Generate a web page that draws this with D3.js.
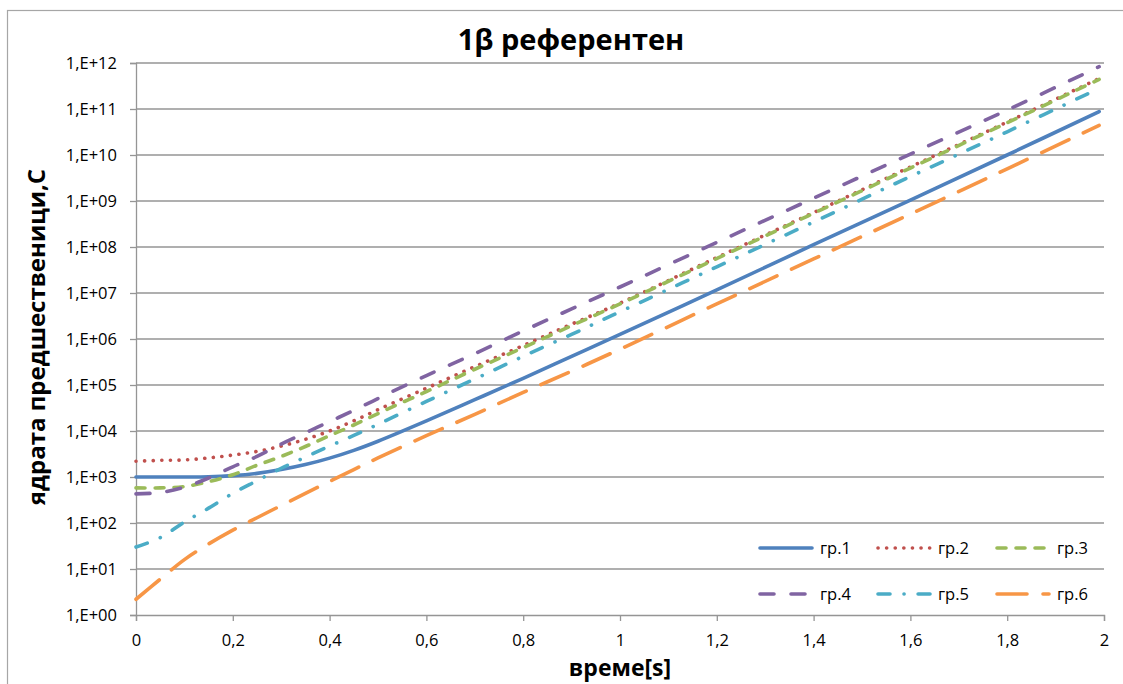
<!DOCTYPE html>
<html>
<head>
<meta charset="utf-8">
<script src="https://cdn.jsdelivr.net/npm/d3@7"></script>
<style>
  body { margin: 0; background: #fff; }
  text { font-family: "Open Sans", "Noto Sans", sans-serif; fill: #000; }
</style>
</head>
<body>
<div id="chart"></div>
<script>
// time points [s]
var times = [0, 0.05, 0.1, 0.15, 0.2, 0.25, 0.3, 0.35, 0.4, 0.45, 0.5,
             0.6, 0.7, 0.8, 0.9, 1.0, 1.2, 1.4, 1.6, 1.8, 1.99];

// values
var gr1 = [1.0e3, 1.0e3, 1.0e3, 1.01e3, 1.07e3, 1.2e3, 1.45e3, 1.86e3, 2.57e3, 3.8e3, 6.0e3,
           1.66e4, 4.8e4, 1.4e5, 4.2e5, 1.26e6, 1.17e7, 1.12e8, 1.05e9, 1.0e10, 8.8e10];
var gr2 = [2.2e3, 2.3e3, 2.35e3, 2.6e3, 3.0e3, 3.6e3, 4.7e3, 6.6e3, 1.0e4, 1.66e4, 2.9e4,
           8.5e4, 2.5e5, 7.2e5, 2.1e6, 6.0e6, 5.9e7, 5.6e8, 5.5e9, 5.2e10, 4.6e11];
var gr3 = [5.8e2, 5.8e2, 6.2e2, 7.9e2, 1.12e3, 1.8e3, 2.8e3, 4.6e3, 7.9e3, 1.35e4, 2.4e4,
           7.2e4, 2.2e5, 6.5e5, 1.95e6, 5.8e6, 5.6e7, 5.4e8, 5.2e9, 5.0e10, 4.4e11];
var gr4 = [4.3e2, 4.6e2, 6.0e2, 9.5e2, 1.66e3, 2.8e3, 5.2e3, 9.1e3, 1.6e4, 2.8e4, 5.1e4,
           1.6e5, 4.8e5, 1.5e6, 4.5e6, 1.35e7, 1.26e8, 1.15e9, 1.05e10, 9.5e10, 8.3e11];
var gr5 = [3.0e1, 4.8e1, 1.05e2, 2.1e2, 4.4e2, 8.3e2, 1.55e3, 2.7e3, 4.7e3, 8.0e3, 1.4e4,
           4.4e4, 1.35e5, 4.2e5, 1.26e6, 3.9e6, 3.7e7, 3.5e8, 3.4e9, 3.2e10, 2.8e11];
var gr6 = [2.2, 6.0, 1.6e1, 3.5e1, 7.0e1, 1.3e2, 2.4e2, 4.4e2, 8.0e2, 1.45e3, 2.6e3,
           7.9e3, 2.3e4, 6.9e4, 2.0e5, 6.0e5, 5.8e6, 5.5e7, 5.2e8, 5.0e9, 4.4e10];

var seriesNames = ["гр.1", "гр.2", "гр.3", "гр.4", "гр.5", "гр.6"];
var xTicks = [0, 0.2, 0.4, 0.6, 0.8, 1, 1.2, 1.4, 1.6, 1.8, 2];
var yTicks = [1e0, 1e1, 1e2, 1e3, 1e4, 1e5, 1e6, 1e7, 1e8, 1e9, 1e10, 1e11, 1e12];

var W = 1123, H = 684;
var margin = {top: 63, right: 19, bottom: 69, left: 136};
var w = W - margin.left - margin.right;
var h = H - margin.top - margin.bottom;

var svg = d3.select("#chart").append("svg")
  .attr("width", W).attr("height", H);

// outer chart border
svg.append("rect")
  .attr("x", 7.5).attr("y", 10.5)
  .attr("width", W + 20).attr("height", H + 20)
  .attr("fill", "none").attr("stroke", "#a6a6a6").attr("stroke-width", 1.2);

var g = svg.append("g").attr("transform", "translate(" + margin.left + "," + margin.top + ")");

var x = d3.scaleLinear().domain([0, 2]).range([0, w]);
var y = d3.scaleLog().domain([1, 1e12]).range([h, 0]);

// grid
g.selectAll(".grid").data(yTicks.slice(1)).enter().append("line")
  .attr("x1", 0).attr("x2", w)
  .attr("y1", function(d) { return y(d); }).attr("y2", function(d) { return y(d); })
  .attr("stroke", "#959595").attr("stroke-width", 1.3);

// y axis
var yAxis = d3.axisLeft(y).tickValues(yTicks).tickSize(6).tickPadding(13)
  .tickFormat(function(d) {
    var e = Math.round(Math.log10(d));
    return "1,E+" + (e < 10 ? "0" + e : e);
  });
var ya = g.append("g").call(yAxis);
ya.select(".domain").attr("stroke", "#959595").attr("stroke-width", 1.3);
ya.selectAll(".tick line").attr("stroke", "#959595").attr("stroke-width", 1.3);
ya.selectAll(".tick text").style("font-size", "16.5px").attr("dy", "0.34em");

// x axis
var xAxis = d3.axisBottom(x).tickValues(xTicks).tickSize(6).tickPadding(13)
  .tickFormat(function(d) { return String(d).replace(".", ","); });
var xa = g.append("g").attr("transform", "translate(0," + h + ")").call(xAxis);
xa.select(".domain").attr("stroke", "#959595").attr("stroke-width", 1.3);
xa.selectAll(".tick line").attr("stroke", "#959595").attr("stroke-width", 1.3);
xa.selectAll(".tick text").style("font-size", "16.5px");

// series
var styles = [
  {color: "#4F81BD", dash: null},
  {color: "#C0504D", dash: "0.1 8.5"},
  {color: "#9BBB59", dash: "9 10"},
  {color: "#8064A2", dash: "14 17"},
  {color: "#4BACC6", dash: "12 14 0.1 14"},
  {color: "#F79646", dash: "30 16"}
];
var series = [gr1, gr2, gr3, gr4, gr5, gr6];

var line = d3.line()
  .x(function(d) { return x(d[0]); })
  .y(function(d) { return y(d[1]); })
  .curve(d3.curveCatmullRom.alpha(0.5));

series.forEach(function(vals, i) {
  g.append("path")
    .datum(times.map(function(t, k) { return [t, vals[k]]; }))
    .attr("d", line)
    .attr("fill", "none")
    .attr("stroke", styles[i].color)
    .attr("stroke-width", 3.6)
    .attr("stroke-linecap", "round")
    .attr("stroke-dasharray", styles[i].dash);
});

// legend
var legX = [760, 878, 997], legY = [548, 594];
seriesNames.forEach(function(name, i) {
  var lx = legX[i % 3], ly = legY[Math.floor(i / 3)];
  svg.append("line")
    .attr("x1", lx).attr("x2", lx + 52).attr("y1", ly).attr("y2", ly)
    .attr("stroke", styles[i].color).attr("stroke-width", 3.6)
    .attr("stroke-linecap", "round")
    .attr("stroke-dasharray", styles[i].dash);
  svg.append("text")
    .attr("x", lx + 60).attr("y", ly).attr("dy", "0.35em")
    .style("font-size", "16.5px").text(name);
});

// titles
svg.append("text")
  .attr("x", 571).attr("y", 50).attr("text-anchor", "middle")
  .style("font-size", "29px").style("font-weight", "bold")
  .text("1β референтен");

svg.append("text")
  .attr("x", 620).attr("y", 676).attr("text-anchor", "middle")
  .style("font-size", "23px").style("font-weight", "bold")
  .text("време[s]");

svg.append("text")
  .attr("transform", "translate(45,337) rotate(-90)")
  .attr("text-anchor", "middle")
  .style("font-size", "24px").style("font-weight", "bold")
  .text("ядрата предшественици,С");
</script>
</body>
</html>
